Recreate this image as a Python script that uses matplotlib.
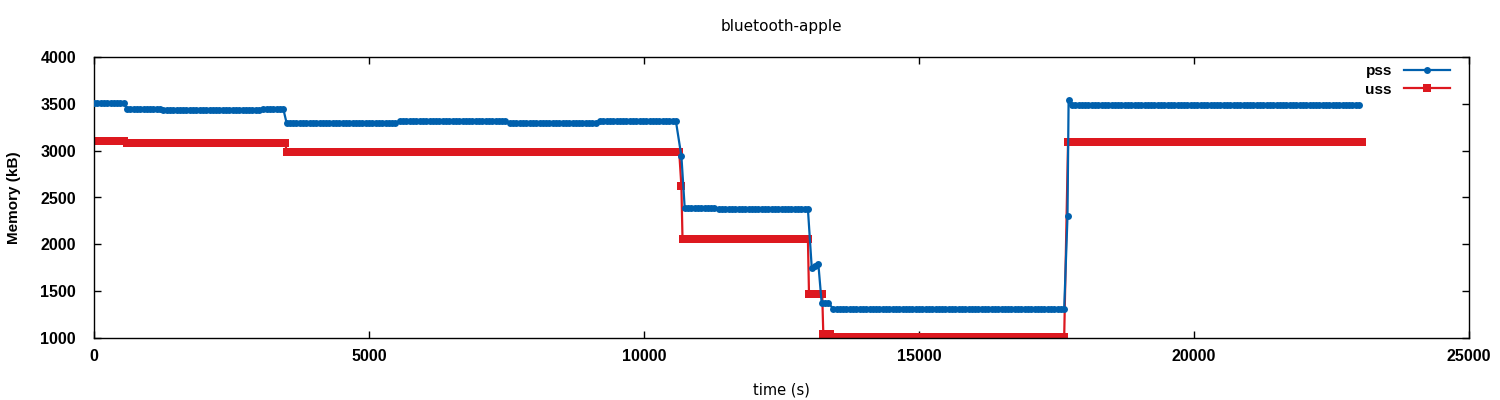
import numpy as np
import matplotlib
matplotlib.use("Agg")
import matplotlib.pyplot as plt

# ---- data ----
# plateaus: start time (s), end time (s), memory (kB); sampled every 60 s
pss_plateau_start = [0, 600, 1260, 3080, 3500, 5560, 7560, 9200, 10740, 11360, 13230, 13440, 17780]
pss_plateau_end   = [560, 1200, 3050, 3460, 5500, 7500, 9150, 10620, 11300, 13000, 13400, 17680, 23050]
pss_plateau_value = [3510, 3445, 3435, 3450, 3300, 3315, 3300, 3315, 2390, 2378, 1375, 1312, 3485]
# isolated transition samples
pss_trans_time  = [10680, 13050, 13110, 13170, 17700, 17720]
pss_trans_value = [2940, 1750, 1770, 1790, 2300, 3540]

uss_plateau_start = [0, 600, 3500, 10700, 13000, 13260, 13440, 17710]
uss_plateau_end   = [560, 3480, 10660, 13000, 13240, 13420, 17690, 23050]
uss_plateau_value = [3100, 3085, 2990, 2060, 1470, 1045, 1015, 3090]
uss_trans_time  = [10680]
uss_trans_value = [2620]

SAMPLE_STEP = 60


def build(starts, ends, vals, ttimes, tvals):
    t, v = [], []
    for s, e, val in zip(starts, ends, vals):
        pts = np.arange(s, e + 1, SAMPLE_STEP)
        t.extend(pts)
        v.extend([val] * len(pts))
    t.extend(ttimes)
    v.extend(tvals)
    order = np.argsort(t, kind="stable")
    return np.asarray(t)[order], np.asarray(v)[order]


pss_t, pss_v = build(pss_plateau_start, pss_plateau_end, pss_plateau_value,
                     pss_trans_time, pss_trans_value)
uss_t, uss_v = build(uss_plateau_start, uss_plateau_end, uss_plateau_value,
                     uss_trans_time, uss_trans_value)

x_ticks = [0, 5000, 10000, 15000, 20000, 25000]
y_ticks = [1000, 1500, 2000, 2500, 3000, 3500, 4000]

BLUE = "#0060ad"
RED = "#dd181f"

fig = plt.figure(figsize=(15, 4), dpi=100)
ax = fig.add_axes([94 / 1500, 1 - 338 / 400, (1469 - 94) / 1500, (338 - 57) / 400])

ax.plot(pss_t, pss_v, color=BLUE, lw=1.6, marker="o", ms=5, mew=0,
        label="pss", zorder=3)
ax.plot(uss_t, uss_v, color=RED, lw=1.6, marker="s", ms=5.6, mew=0,
        label="uss", zorder=2)

ax.set_xlim(0, 25000)
ax.set_ylim(1000, 4000)
ax.set_xticks(x_ticks)
ax.set_yticks(y_ticks)

tick_font = dict(family="Liberation Sans", weight="bold", size=11.5)
ax.set_xticklabels([str(v) for v in x_ticks], fontdict=tick_font)
ax.set_yticklabels([str(v) for v in y_ticks], fontdict=tick_font)
ax.tick_params(direction="in", length=5, width=1, top=True, right=True,
               pad=8, colors="black")
ax.tick_params(axis="y", pad=13)

for sp in ax.spines.values():
    sp.set_linewidth(1)

ax.set_title("bluetooth-apple", family="DejaVu Sans", size=11, pad=19)
ax.set_xlabel("time (s)", family="DejaVu Sans", size=10.5, labelpad=13)
ax.set_ylabel("Memory (kB)", family="Liberation Sans", weight="bold",
              size=11, labelpad=14)

leg = ax.legend(loc="upper right", frameon=False, markerfirst=False,
                prop=dict(family="Liberation Sans", weight="bold", size=11),
                handlelength=3.0, handletextpad=0.8, borderpad=0,
                borderaxespad=0, labelspacing=0.3,
                bbox_to_anchor=((1450 - 94) / 1375, 1 - 7 / 281))

fig.savefig("out.png", dpi=100)
